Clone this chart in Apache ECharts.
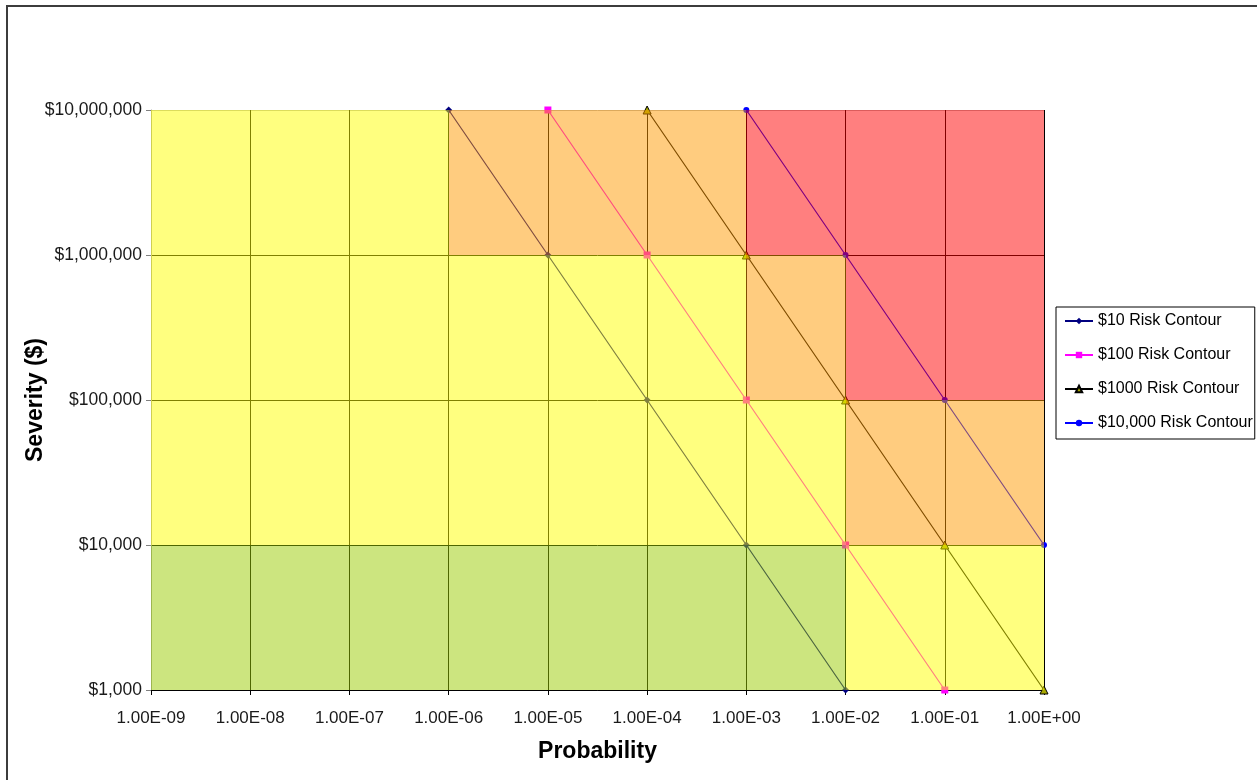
<!DOCTYPE html>
<html>
<head>
<meta charset="utf-8">
<title>Risk Contours</title>
<script src="https://cdn.jsdelivr.net/npm/echarts@6/dist/echarts.min.js"></script>
<style>
  html, body { margin: 0; padding: 0; background: #ffffff; }
  #chart { width: 1257px; height: 780px; }
</style>
</head>
<body>
<div id="chart"></div>
<script>
// Tick labels for the two logarithmic axes (one per decade)
const probabilityLabels = ['1.00E-09', '1.00E-08', '1.00E-07', '1.00E-06', '1.00E-05',
                           '1.00E-04', '1.00E-03', '1.00E-02', '1.00E-01', '1.00E+00'];
const severityLabels = ['$1,000', '$10,000', '$100,000', '$1,000,000', '$10,000,000'];

// Risk contours: [probability, severity] pairs where probability x severity is constant
const risk10 = [[1e-6, 1e7], [1e-5, 1e6], [1e-4, 1e5], [1e-3, 1e4], [1e-2, 1e3]];
const risk100 = [[1e-5, 1e7], [1e-4, 1e6], [1e-3, 1e5], [1e-2, 1e4], [1e-1, 1e3]];
const risk1000 = [[1e-4, 1e7], [1e-3, 1e6], [1e-2, 1e5], [1e-1, 1e4], [1e0, 1e3]];
const risk10000 = [[1e-3, 1e7], [1e-2, 1e6], [1e-1, 1e5], [1e0, 1e4]];

// Risk zones: [probability from, probability to, severity from, severity to, zone]
const zones = [
  [1e-9, 1e-6, 1e6, 1e7, 'medium'],
  [1e-6, 1e-3, 1e6, 1e7, 'high'],
  [1e-3, 1e0, 1e6, 1e7, 'severe'],
  [1e-9, 1e-3, 1e5, 1e6, 'medium'],
  [1e-3, 1e-2, 1e5, 1e6, 'high'],
  [1e-2, 1e0, 1e5, 1e6, 'severe'],
  [1e-9, 1e-2, 1e4, 1e5, 'medium'],
  [1e-2, 1e0, 1e4, 1e5, 'high'],
  [1e-9, 1e-2, 1e3, 1e4, 'low'],
  [1e-2, 1e0, 1e3, 1e4, 'medium']
];

const zoneColors = {
  low: 'rgba(153, 204, 0, 0.5)',
  medium: 'rgba(255, 255, 0, 0.5)',
  high: 'rgba(255, 153, 0, 0.5)',
  severe: 'rgba(255, 0, 0, 0.5)'
};

const seriesNames = ['$10 Risk Contour', '$100 Risk Contour', '$1000 Risk Contour', '$10,000 Risk Contour'];

const FONT = '"Liberation Sans", Arial, sans-serif';

function decadeIndex(v, min) {
  return Math.round(Math.log10(v) - Math.log10(min));
}

const chart = echarts.init(document.getElementById('chart'), null, { renderer: 'canvas' });

function contour(name, data, color, symbol, size, markerColor, markerBorder) {
  return {
    name: name,
    type: 'line',
    data: data,
    z: 2,
    clip: false,
    symbol: symbol,
    symbolSize: size,
    showSymbol: true,
    lineStyle: { color: color, width: 1.2 },
    itemStyle: { color: markerColor, borderColor: markerBorder, borderWidth: markerBorder ? 1 : 0 },
    emphasis: { disabled: true }
  };
}

const option = {
  animation: false,
  backgroundColor: '#ffffff',
  textStyle: { fontFamily: FONT },
  grid: { left: 151, top: 110, width: 893, height: 580, containLabel: false },
  xAxis: {
    type: 'log',
    logBase: 10,
    min: 1e-9,
    max: 1,
    interval: 1,
    name: 'Probability',
    nameLocation: 'middle',
    nameGap: 50,
    nameTextStyle: { fontFamily: FONT, fontSize: 23, fontWeight: 'bold', color: '#000' },
    axisLine: { show: true, lineStyle: { color: '#000', width: 1 } },
    axisTick: { show: true, length: 5, lineStyle: { color: '#000' } },
    axisLabel: {
      margin: 20,
      fontFamily: FONT,
      fontSize: 17,
      color: '#1a1a1a',
      formatter: v => probabilityLabels[decadeIndex(v, 1e-9)]
    },
    splitLine: { show: true, lineStyle: { color: '#000', width: 1 } },
    z: 0
  },
  yAxis: {
    type: 'log',
    logBase: 10,
    min: 1e3,
    max: 1e7,
    interval: 1,
    name: 'Severity ($)',
    nameLocation: 'middle',
    nameGap: 104,
    nameMoveOverlap: false,
    nameRotate: 90,
    nameTextStyle: { fontFamily: FONT, fontSize: 23, fontWeight: 'bold', color: '#000' },
    axisLine: { show: true, lineStyle: { color: '#a0a0a0', width: 1 } },
    axisTick: { show: true, length: 5, lineStyle: { color: '#808080' } },
    axisLabel: {
      margin: 9,
      fontFamily: FONT,
      fontSize: 17.5,
      color: '#1a1a1a',
      formatter: v => severityLabels[decadeIndex(v, 1e3)]
    },
    splitLine: { show: true, lineStyle: { color: ['#000', '#000', '#000', '#000', '#b8b8b8'], width: 1 } },
    z: 0
  },
  legend: {
    data: seriesNames,
    orient: 'vertical',
    left: 1056,
    top: 307,
    padding: [6, 2, 8, 8],
    itemGap: 18,
    itemWidth: 28,
    itemHeight: 8,
    borderColor: '#000',
    borderWidth: 1,
    backgroundColor: '#fff',
    selectedMode: false,
    textStyle: { fontFamily: FONT, fontSize: 16, color: '#000' }
  },
  graphic: [
    {
      type: 'rect',
      shape: { x: 7, y: 6, width: 1400, height: 900 },
      style: { fill: 'none', stroke: '#3c3c3c', lineWidth: 2 },
      silent: true,
      z: 100
    }
  ],
  series: [
    contour(seriesNames[0], risk10, '#000080', 'diamond', 7, '#000080'),
    contour(seriesNames[1], risk100, '#ff00ff', 'rect', 7, '#ff00ff'),
    contour(seriesNames[2], risk1000, '#000000', 'triangle', 8, '#a8a800', '#000000'),
    contour(seriesNames[3], risk10000, '#0000ff', 'circle', 6, '#0000ff'),
    {
      name: 'zones',
      type: 'custom',
      silent: true,
      z: 5,
      encode: { x: [0, 1], y: [2, 3] },
      data: zones.map(z => [z[0], z[1], z[2], z[3]]),
      renderItem: function (params, api) {
        const p0 = api.coord([api.value(0), api.value(3)]);
        const p1 = api.coord([api.value(1), api.value(2)]);
        const zone = zones[params.dataIndex][4];
        return {
          type: 'rect',
          shape: {
            x: Math.round(p0[0]),
            y: Math.round(p0[1]),
            width: Math.round(p1[0]) - Math.round(p0[0]),
            height: Math.round(p1[1]) - Math.round(p0[1])
          },
          style: { fill: zoneColors[zone] }
        };
      }
    }
  ]
};

chart.setOption(option);
</script>
</body>
</html>
